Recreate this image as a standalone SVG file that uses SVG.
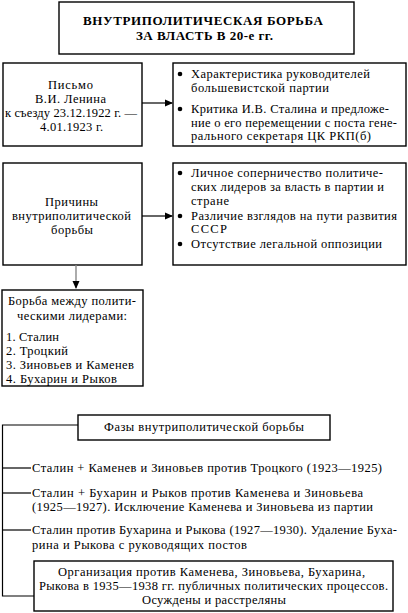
<svg xmlns="http://www.w3.org/2000/svg" width="408" height="613" viewBox="0 0 408 613">
<defs>
<style>
.b{fill:#fff;stroke:#000;stroke-width:1.4}
.t{font-family:"Liberation Serif","Times New Roman",serif;font-size:12.5px;fill:#000}
.h{font-weight:bold;font-size:13px}
.l{stroke:#000;stroke-width:1.2;fill:none}
</style>
<marker id="ah" markerWidth="8" markerHeight="8" refX="7" refY="4" orient="auto" markerUnits="userSpaceOnUse">
<path d="M0,0.5 L8,4 L0,7.5 Z" fill="#000"/>
</marker>
</defs>
<rect width="408" height="613" fill="#fff"/>
<g id="title">
<rect class="b" x="59" y="2" width="295" height="52"/>
<text class="t h" x="83" y="25" textLength="240" lengthAdjust="spacing">ВНУТРИПОЛИТИЧЕСКАЯ БОРЬБА</text>
<text class="t h" x="136" y="40" textLength="137" lengthAdjust="spacing">ЗА ВЛАСТЬ В 20-е гг.</text>
</g>
<g id="letter">
<rect class="b" x="3" y="63" width="139" height="83"/>
<text class="t" x="48" y="89" textLength="45" lengthAdjust="spacing">Письмо</text>
<text class="t" x="35" y="103" textLength="71" lengthAdjust="spacing">В.И. Ленина</text>
<text class="t" x="5" y="117" textLength="132" lengthAdjust="spacing">к съезду 23.12.1922 г. —</text>
<text class="t" x="40" y="131" textLength="63" lengthAdjust="spacing">4.01.1923 г.</text>
</g>
<g id="letter-points">
<rect class="b" x="173" y="63" width="233" height="83"/>
<circle cx="180" cy="74" r="2.3"/>
<circle cx="180" cy="109" r="2.3"/>
<text class="t" x="191" y="78" textLength="179" lengthAdjust="spacing">Характеристика руководителей</text>
<text class="t" x="191" y="92" textLength="138" lengthAdjust="spacing">большевистской партии</text>
<text class="t" x="191" y="113" textLength="198" lengthAdjust="spacing">Критика И.В. Сталина и предложе-</text>
<text class="t" x="191" y="127" textLength="206" lengthAdjust="spacing">ние о его перемещении с поста гене-</text>
<text class="t" x="191" y="140" textLength="180" lengthAdjust="spacing">рального секретаря ЦК РКП(б)</text>
</g>
<g id="causes">
<rect class="b" x="3" y="163" width="139" height="102"/>
<text class="t" x="45" y="206" textLength="53" lengthAdjust="spacing">Причины</text>
<text class="t" x="12" y="220" textLength="119" lengthAdjust="spacing">внутриполитической</text>
<text class="t" x="51" y="234" textLength="42" lengthAdjust="spacing">борьбы</text>
</g>
<g id="causes-points">
<rect class="b" x="173" y="163" width="233" height="102"/>
<circle cx="180" cy="173" r="2.3"/>
<circle cx="180" cy="216" r="2.3"/>
<circle cx="180" cy="244" r="2.3"/>
<text class="t" x="191" y="177" textLength="192" lengthAdjust="spacing">Личное соперничество политиче-</text>
<text class="t" x="191" y="191" textLength="193" lengthAdjust="spacing">ских лидеров за власть в партии и</text>
<text class="t" x="191" y="205" textLength="38" lengthAdjust="spacing">стране</text>
<text class="t" x="191" y="220" textLength="206" lengthAdjust="spacing">Различие взглядов на пути развития</text>
<text class="t" x="191" y="233" textLength="36" lengthAdjust="spacing">СССР</text>
<text class="t" x="191" y="248" textLength="191" lengthAdjust="spacing">Отсутствие легальной оппозиции</text>
</g>
<g id="leaders">
<rect class="b" x="2" y="290" width="141" height="96"/>
<text class="t" x="8" y="305" textLength="128" lengthAdjust="spacing">Борьба между полити-</text>
<text class="t" x="17" y="320" textLength="110" lengthAdjust="spacing">ческими лидерами:</text>
<text class="t" x="6" y="341" textLength="53" lengthAdjust="spacing">1. Сталин</text>
<text class="t" x="6" y="355" textLength="62" lengthAdjust="spacing">2. Троцкий</text>
<text class="t" x="6" y="369" textLength="128" lengthAdjust="spacing">3. Зиновьев и Каменев</text>
<text class="t" x="6" y="383" textLength="111" lengthAdjust="spacing">4. Бухарин и Рыков</text>
</g>
<g id="phases">
<rect class="b" x="78" y="415" width="252" height="25"/>
<text class="t" x="104" y="431" textLength="200" lengthAdjust="spacing">Фазы внутриполитической борьбы</text>
</g>
<g id="phase1">
<text class="t" x="32" y="472" textLength="350" lengthAdjust="spacing">Сталин + Каменев и Зиновьев против Троцкого (1923—1925)</text>
</g>
<g id="phase2">
<text class="t" x="32" y="497" textLength="331" lengthAdjust="spacing">Сталин + Бухарин и Рыков против Каменева и Зиновьева</text>
<text class="t" x="32" y="511" textLength="341" lengthAdjust="spacing">(1925—1927). Исключение Каменева и Зиновьева из партии</text>
</g>
<g id="phase3">
<text class="t" x="32" y="534" textLength="365" lengthAdjust="spacing">Сталин против Бухарина и Рыкова (1927—1930). Удаление Буха-</text>
<text class="t" x="32" y="549" textLength="215" lengthAdjust="spacing">рина и Рыкова с руководящих постов</text>
</g>
<g id="phase4">
<rect class="b" x="34" y="561" width="359" height="50"/>
<text class="t" x="58" y="576" textLength="307" lengthAdjust="spacing">Организация против Каменева, Зиновьева, Бухарина,</text>
<text class="t" x="39" y="590" textLength="349" lengthAdjust="spacing">Рыкова в 1935—1938 гг. публичных политических процессов.</text>
<text class="t" x="142" y="604" textLength="144" lengthAdjust="spacing">Осуждены и расстреляны</text>
</g>
<g id="connectors">
<line class="l" x1="142" y1="103" x2="172" y2="103" marker-end="url(#ah)"/>
<line class="l" x1="142" y1="216" x2="172" y2="216" marker-end="url(#ah)"/>
<line x1="76" y1="265" x2="76" y2="288" stroke="#888" stroke-width="1.4" marker-end="url(#ah)"/>
<polyline class="l" points="78,425 2.5,425 2.5,596 34,596"/>
<line class="l" x1="2.5" y1="468" x2="31" y2="468"/>
<line class="l" x1="2.5" y1="493" x2="31" y2="493"/>
<line class="l" x1="2.5" y1="530" x2="31" y2="530"/>
</g>
</svg>
